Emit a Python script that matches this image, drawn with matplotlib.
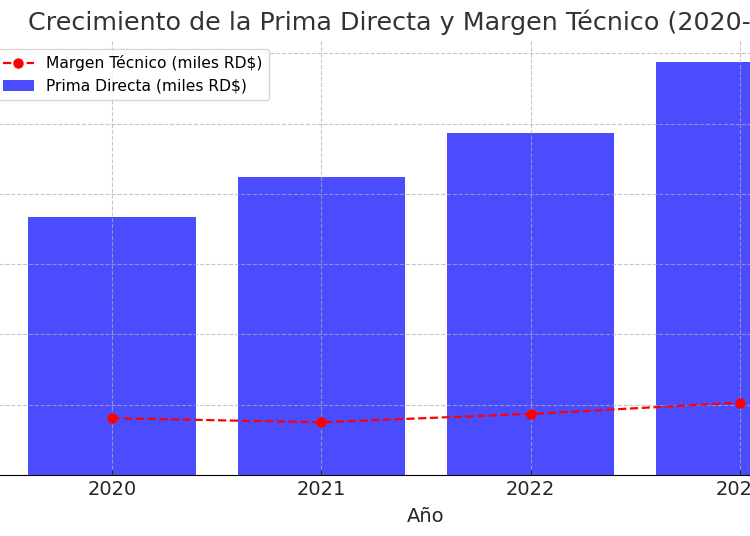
import matplotlib
matplotlib.use("Agg")
import matplotlib.pyplot as plt

years = [2020, 2021, 2022, 2023]
prima_directa = [36_750_000, 42_450_000, 48_700_000, 58_800_000]
margen_tecnico = [8_080_000, 7_500_000, 8_690_000, 10_300_000]

fig = plt.figure(figsize=(7.5, 5.36), dpi=100)
ax = fig.add_axes([-0.0153, 0.1138, 1.1667, 0.8097])

ax.bar(years, prima_directa, width=0.8, color='blue', alpha=0.7,
       label='Prima Directa (miles RD$)')
ax.plot(years, margen_tecnico, color='red', linestyle='--', marker='o',
        linewidth=1.6, markersize=6.5, label='Margen Técnico (miles RD$)')

ax.set_title('Crecimiento de la Prima Directa y Margen Técnico (2020-2023)',
             fontsize=18.3, color='#333333', pad=8)
ax.set_xlabel('Año', fontsize=14, color='#262626', labelpad=5.5)
ax.set_xticks(years)
ax.tick_params(axis='x', labelsize=14, direction='in', colors='#262626')
ax.tick_params(axis='y', labelsize=14)
ax.ticklabel_format(axis='y', style='plain', useOffset=False)
ax.grid(True, linestyle='--', alpha=0.7)
for s in ['top', 'right', 'left']:
    ax.spines[s].set_visible(False)

ax.legend(loc='upper left', fontsize=11.2)

fig.savefig('out.png', dpi=100)
